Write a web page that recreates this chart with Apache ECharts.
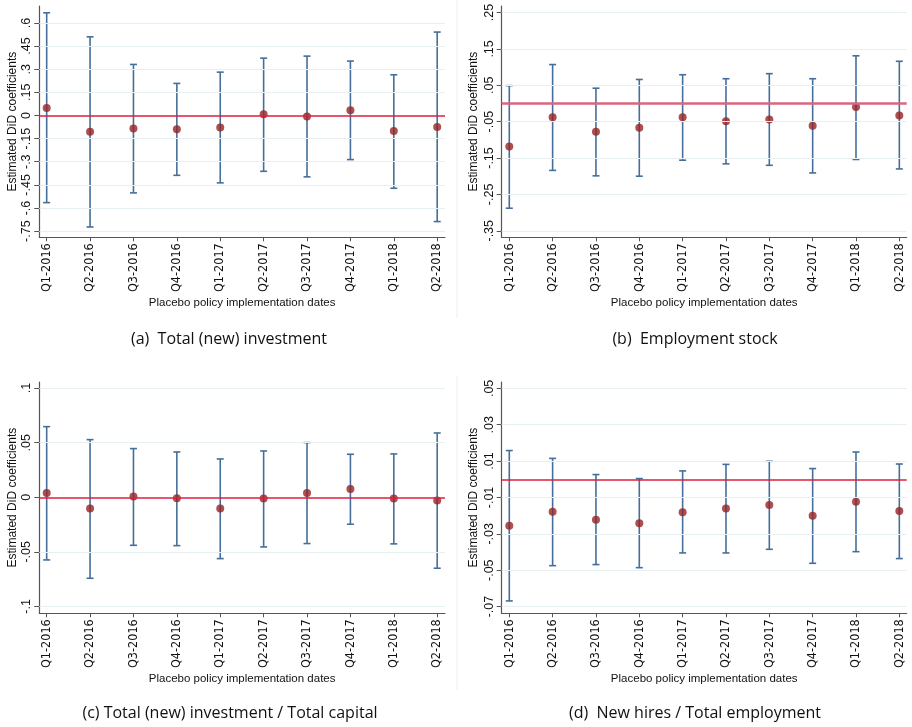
<!DOCTYPE html>
<html><head><meta charset="utf-8">
<script src="https://cdn.jsdelivr.net/npm/echarts@6/dist/echarts.min.js"></script>
<style>html,body{margin:0;padding:0;background:#fff}#c{width:912px;height:727px}</style>
</head><body><div id="c"></div>
<script>
const categories = ['Q1-2016','Q2-2016','Q3-2016','Q4-2016','Q1-2017','Q2-2017','Q3-2017','Q4-2017','Q1-2018','Q2-2018'];

// Panel (a) Total (new) investment
const coefA  = [0.049,-0.106,-0.085,-0.089,-0.078,0.008,-0.006,0.034,-0.100,-0.074];
const upperA = [0.666,0.510,0.331,0.208,0.281,0.372,0.385,0.353,0.264,0.541];
const lowerA = [-0.565,-0.723,-0.502,-0.388,-0.437,-0.362,-0.398,-0.286,-0.472,-0.688];
const ticksA = [-0.75,-0.6,-0.45,-0.3,-0.15,0,0.15,0.3,0.45,0.6];

// Panel (b) Employment stock
const coefB  = [-0.118,-0.038,-0.078,-0.067,-0.038,-0.049,-0.044,-0.061,-0.010,-0.033];
const upperB = [0.049,0.107,0.042,0.066,0.079,0.068,0.082,0.068,0.131,0.116];
const lowerB = [-0.288,-0.184,-0.199,-0.200,-0.156,-0.166,-0.170,-0.191,-0.154,-0.180];
const ticksB = [-0.35,-0.25,-0.15,-0.05,0.05,0.15,0.25];

// Panel (c) Total (new) investment / Total capital
const coefC  = [0.0040,-0.0104,0.0006,-0.0009,-0.0104,-0.0012,0.0040,0.0076,-0.0012,-0.0030];
const upperC = [0.0647,0.0528,0.0446,0.0415,0.0351,0.0424,0.0501,0.0394,0.0397,0.0589];
const lowerC = [-0.0574,-0.0742,-0.0440,-0.0443,-0.0562,-0.0455,-0.0424,-0.0247,-0.0427,-0.0650];
const ticksC = [-0.1,-0.05,0,0.05,0.1];

// Panel (d) New hires / Total employment
const coefD  = [-0.0255,-0.0178,-0.0222,-0.0242,-0.0181,-0.0161,-0.0141,-0.0200,-0.0123,-0.0174];
const upperD = [0.0158,0.0115,0.0026,0.0004,0.0046,0.0082,0.0099,0.0059,0.0150,0.0084];
const lowerD = [-0.0669,-0.0475,-0.0469,-0.0486,-0.0405,-0.0405,-0.0385,-0.0462,-0.0398,-0.0436];
const ticksD = [-0.07,-0.05,-0.03,-0.01,0.01,0.03,0.05];

const captions = ['(a)  Total (new) investment','(b)  Employment stock','(c) Total (new) investment / Total capital','(d)  New hires / Total employment'];
const yTitle = 'Estimated DiD coefficients';
const xTitle = 'Placebo policy implementation dates';

const panels = [
  {coef:coefA,up:upperA,lo:lowerA,ticks:ticksA,ymin:-0.79,ymax:0.71,left:39.3,top:6,xmin:-0.17,xmax:9.18,zc:'#dc1f3e',zw:1.5},
  {coef:coefB,up:upperB,lo:lowerB,ticks:ticksB,ymin:-0.368,ymax:0.268,left:501.7,top:6,xmin:-0.175,xmax:9.17,zc:'#da6680',zw:2.5},
  {coef:coefC,up:upperC,lo:lowerC,ticks:ticksC,ymin:-0.1063,ymax:0.1056,left:39.3,top:382,xmin:-0.17,xmax:9.18,zc:'#dc1f3e',zw:1.5},
  {coef:coefD,up:upperD,lo:lowerD,ticks:ticksD,ymin:-0.0737,ymax:0.0535,left:501.7,top:382,xmin:-0.175,xmax:9.17,zc:'#dc1f3e',zw:1.5}
];
const catIdx = categories.map((c,i)=>i);
const fmt = v => String(v).replace(/^(-?)0\./,'$1.');
const font = 'Liberation Sans, Arial, sans-serif';
const narrow = '"Liberation Sans Narrow", "DejaVu Sans Condensed", "Liberation Sans", sans-serif';

const grid=[],xAxis=[],yAxis=[],series=[];
panels.forEach((p,k)=>{
  const width = k%2===0 ? 445-39.3 : 906.7-501.7;
  grid.push({left:p.left,top:p.top,width:width,height:231.3});
  xAxis.push({type:'value',gridIndex:k,min:p.xmin,max:p.xmax,
    axisLine:{show:true,onZero:false,lineStyle:{color:'#555',width:1.2}},
    axisTick:{show:true,length:4,customValues:catIdx,lineStyle:{color:'#555'}},
    axisLabel:{customValues:catIdx,rotate:90,formatter:v=>categories[Math.round(v)],color:'#111',fontSize:12.5,fontFamily:narrow,margin:6},
    splitLine:{show:false},
    name:xTitle,nameLocation:'middle',nameGap:60,nameMoveOverlap:false,nameTextStyle:{color:'#111',fontSize:11.5,fontFamily:font}});
  yAxis.push({type:'value',gridIndex:k,min:p.ymin,max:p.ymax,
    axisLine:{show:true,onZero:false,lineStyle:{color:'#555',width:1.2}},
    axisTick:{show:true,length:5,customValues:p.ticks,lineStyle:{color:'#555'}},
    axisLabel:{customValues:p.ticks,rotate:90,formatter:fmt,color:'#111',fontSize:12.5,fontFamily:font,margin:6},
    splitLine:{show:false},
    name:yTitle,nameLocation:'middle',nameGap:k%2===0?21:22,nameMoveOverlap:false,nameTextStyle:{color:'#111',fontSize:12,fontFamily:font}});
  // grid lines
  series.push({type:'line',xAxisIndex:k,yAxisIndex:k,data:[],silent:true,z:1,
    markLine:{symbol:'none',silent:true,label:{show:false},lineStyle:{color:'#e6eff1',type:'solid',width:1},
      data:p.ticks.filter(t=>t!==0).map(t=>({yAxis:t}))}});
  // zero line
  series.push({type:'line',xAxisIndex:k,yAxisIndex:k,data:[],silent:true,z:2,
    markLine:{symbol:'none',silent:true,label:{show:false},lineStyle:{color:p.zc,type:'solid',width:p.zw},
      data:[{yAxis:0}]}});
  // error bars
  series.push({type:'custom',xAxisIndex:k,yAxisIndex:k,z:3,
    data:catIdx.map(i=>[i,p.lo[i],p.up[i]]),
    renderItem:(params,api)=>{
      const a=api.coord([api.value(0),api.value(1)]);
      const b=api.coord([api.value(0),api.value(2)]);
      const hw=3.5;
      const st={stroke:'#456f9a',lineWidth:1.6};
      return {type:'group',children:[
        {type:'line',shape:{x1:a[0],y1:a[1],x2:b[0],y2:b[1]},style:st},
        {type:'line',shape:{x1:a[0]-hw,y1:a[1],x2:a[0]+hw,y2:a[1]},style:st},
        {type:'line',shape:{x1:b[0]-hw,y1:b[1],x2:b[0]+hw,y2:b[1]},style:st}
      ]};
    }});
  // points
  series.push({type:'scatter',xAxisIndex:k,yAxisIndex:k,z:4,symbol:'circle',symbolSize:8,
    itemStyle:{color:'#962326'},data:catIdx.map(i=>[i,p.coef[i]])});
});

const capPos=[[229,339],[695,339],[230,713],[695,713]];
const graphic = captions.map((t,i)=>({type:'text',x:capPos[i][0],y:capPos[i][1],
  style:{text:t,font:'16px "Open Sans", sans-serif',fill:'#111',textAlign:'center',textVerticalAlign:'middle'}}));
graphic.push({type:'line',shape:{x1:457,y1:0,x2:457,y2:318},style:{stroke:'#eeeeee',lineWidth:1}});
graphic.push({type:'line',shape:{x1:457,y1:376,x2:457,y2:690},style:{stroke:'#eeeeee',lineWidth:1}});

const chart = echarts.init(document.getElementById('c'),null,{renderer:'canvas'});
chart.setOption({backgroundColor:'#fff',animation:false,grid,xAxis,yAxis,series,graphic});
</script></body></html>
